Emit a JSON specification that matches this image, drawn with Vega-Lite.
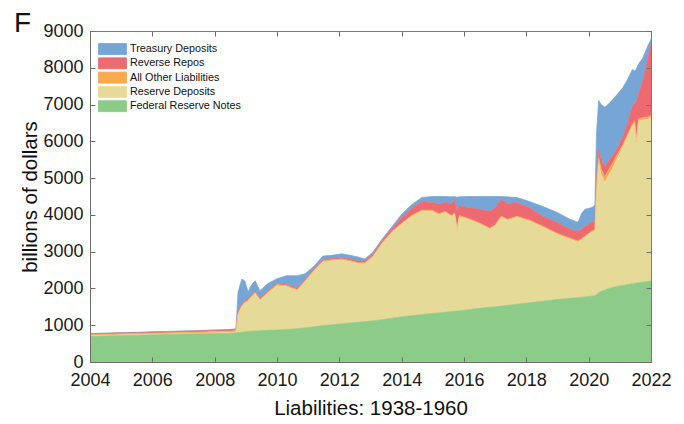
{
  "$schema": "https://vega.github.io/schema/vega-lite/v6.json",
  "width": 561,
  "height": 331,
  "autosize": {"type": "none"},
  "padding": {"left": 90, "top": 31, "right": 33, "bottom": 62},
  "background": "white",
  "config": {
    "font": "Liberation Sans",
    "view": {"stroke": "#7a7a7a", "strokeWidth": 1}
  },
  "title": {"text": "F", "anchor": "start", "frame": "group", "fontSize": 28, "fontWeight": "normal", "color": "#111", "dx": -76, "dy": 38, "offset": 0, "baseline": "alphabetic"},
  "data": {"values": [
    {"t": 2004.0, "Federal Reserve Notes": 700, "Reserve Deposits": 20, "All Other Liabilities": 25, "Reverse Repos": 25, "Treasury Deposits": 5},
    {"t": 2004.5, "Federal Reserve Notes": 708, "Reserve Deposits": 18, "All Other Liabilities": 26, "Reverse Repos": 27, "Treasury Deposits": 5},
    {"t": 2005.0, "Federal Reserve Notes": 718, "Reserve Deposits": 20, "All Other Liabilities": 27, "Reverse Repos": 28, "Treasury Deposits": 5},
    {"t": 2005.5, "Federal Reserve Notes": 728, "Reserve Deposits": 17, "All Other Liabilities": 28, "Reverse Repos": 27, "Treasury Deposits": 5},
    {"t": 2006.0, "Federal Reserve Notes": 738, "Reserve Deposits": 18, "All Other Liabilities": 29, "Reverse Repos": 30, "Treasury Deposits": 5},
    {"t": 2006.5, "Federal Reserve Notes": 748, "Reserve Deposits": 16, "All Other Liabilities": 30, "Reverse Repos": 31, "Treasury Deposits": 5},
    {"t": 2007.0, "Federal Reserve Notes": 758, "Reserve Deposits": 17, "All Other Liabilities": 31, "Reverse Repos": 32, "Treasury Deposits": 5},
    {"t": 2007.5, "Federal Reserve Notes": 765, "Reserve Deposits": 16, "All Other Liabilities": 32, "Reverse Repos": 35, "Treasury Deposits": 5},
    {"t": 2008.0, "Federal Reserve Notes": 775, "Reserve Deposits": 20, "All Other Liabilities": 33, "Reverse Repos": 38, "Treasury Deposits": 5},
    {"t": 2008.4, "Federal Reserve Notes": 782, "Reserve Deposits": 18, "All Other Liabilities": 34, "Reverse Repos": 40, "Treasury Deposits": 6},
    {"t": 2008.68, "Federal Reserve Notes": 790, "Reserve Deposits": 25, "All Other Liabilities": 36, "Reverse Repos": 42, "Treasury Deposits": 7},
    {"t": 2008.75, "Federal Reserve Notes": 800, "Reserve Deposits": 500, "All Other Liabilities": 30, "Reverse Repos": 40, "Treasury Deposits": 530},
    {"t": 2008.87, "Federal Reserve Notes": 810, "Reserve Deposits": 690, "All Other Liabilities": 30, "Reverse Repos": 40, "Treasury Deposits": 690},
    {"t": 2008.97, "Federal Reserve Notes": 820, "Reserve Deposits": 780, "All Other Liabilities": 30, "Reverse Repos": 40, "Treasury Deposits": 530},
    {"t": 2009.07, "Federal Reserve Notes": 830, "Reserve Deposits": 814, "All Other Liabilities": 30, "Reverse Repos": 35, "Treasury Deposits": 204},
    {"t": 2009.2, "Federal Reserve Notes": 838, "Reserve Deposits": 942, "All Other Liabilities": 30, "Reverse Repos": 35, "Treasury Deposits": 275},
    {"t": 2009.3, "Federal Reserve Notes": 843, "Reserve Deposits": 1017, "All Other Liabilities": 30, "Reverse Repos": 35, "Treasury Deposits": 285},
    {"t": 2009.45, "Federal Reserve Notes": 850, "Reserve Deposits": 820, "All Other Liabilities": 30, "Reverse Repos": 35, "Treasury Deposits": 205},
    {"t": 2009.7, "Federal Reserve Notes": 860, "Reserve Deposits": 1000, "All Other Liabilities": 30, "Reverse Repos": 35, "Treasury Deposits": 205},
    {"t": 2010.0, "Federal Reserve Notes": 870, "Reserve Deposits": 1205, "All Other Liabilities": 30, "Reverse Repos": 35, "Treasury Deposits": 124},
    {"t": 2010.3, "Federal Reserve Notes": 885, "Reserve Deposits": 1165, "All Other Liabilities": 30, "Reverse Repos": 35, "Treasury Deposits": 230},
    {"t": 2010.65, "Federal Reserve Notes": 905, "Reserve Deposits": 1035, "All Other Liabilities": 30, "Reverse Repos": 35, "Treasury Deposits": 340},
    {"t": 2010.9, "Federal Reserve Notes": 925, "Reserve Deposits": 1255, "All Other Liabilities": 30, "Reverse Repos": 35, "Treasury Deposits": 155},
    {"t": 2011.2, "Federal Reserve Notes": 960, "Reserve Deposits": 1520, "All Other Liabilities": 30, "Reverse Repos": 35, "Treasury Deposits": 70},
    {"t": 2011.47, "Federal Reserve Notes": 990, "Reserve Deposits": 1730, "All Other Liabilities": 30, "Reverse Repos": 35, "Treasury Deposits": 95},
    {"t": 2011.75, "Federal Reserve Notes": 1010, "Reserve Deposits": 1740, "All Other Liabilities": 30, "Reverse Repos": 35, "Treasury Deposits": 85},
    {"t": 2012.08, "Federal Reserve Notes": 1040, "Reserve Deposits": 1735, "All Other Liabilities": 30, "Reverse Repos": 35, "Treasury Deposits": 100},
    {"t": 2012.35, "Federal Reserve Notes": 1060, "Reserve Deposits": 1670, "All Other Liabilities": 30, "Reverse Repos": 40, "Treasury Deposits": 100},
    {"t": 2012.6, "Federal Reserve Notes": 1080, "Reserve Deposits": 1590, "All Other Liabilities": 30, "Reverse Repos": 45, "Treasury Deposits": 110},
    {"t": 2012.82, "Federal Reserve Notes": 1100, "Reserve Deposits": 1570, "All Other Liabilities": 30, "Reverse Repos": 45, "Treasury Deposits": 55},
    {"t": 2013.08, "Federal Reserve Notes": 1120, "Reserve Deposits": 1735, "All Other Liabilities": 30, "Reverse Repos": 50, "Treasury Deposits": 55},
    {"t": 2013.37, "Federal Reserve Notes": 1150, "Reserve Deposits": 2060, "All Other Liabilities": 30, "Reverse Repos": 60, "Treasury Deposits": 40},
    {"t": 2013.7, "Federal Reserve Notes": 1190, "Reserve Deposits": 2340, "All Other Liabilities": 30, "Reverse Repos": 80, "Treasury Deposits": 50},
    {"t": 2014.0, "Federal Reserve Notes": 1230, "Reserve Deposits": 2515, "All Other Liabilities": 30, "Reverse Repos": 150, "Treasury Deposits": 90},
    {"t": 2014.33, "Federal Reserve Notes": 1260, "Reserve Deposits": 2700, "All Other Liabilities": 30, "Reverse Repos": 200, "Treasury Deposits": 95},
    {"t": 2014.65, "Federal Reserve Notes": 1290, "Reserve Deposits": 2810, "All Other Liabilities": 30, "Reverse Repos": 230, "Treasury Deposits": 115},
    {"t": 2014.97, "Federal Reserve Notes": 1320, "Reserve Deposits": 2780, "All Other Liabilities": 30, "Reverse Repos": 210, "Treasury Deposits": 160},
    {"t": 2015.2, "Federal Reserve Notes": 1335, "Reserve Deposits": 2665, "All Other Liabilities": 30, "Reverse Repos": 270, "Treasury Deposits": 200},
    {"t": 2015.39, "Federal Reserve Notes": 1350, "Reserve Deposits": 2720, "All Other Liabilities": 30, "Reverse Repos": 240, "Treasury Deposits": 160},
    {"t": 2015.6, "Federal Reserve Notes": 1370, "Reserve Deposits": 2580, "All Other Liabilities": 30, "Reverse Repos": 320, "Treasury Deposits": 190},
    {"t": 2015.7, "Federal Reserve Notes": 1380, "Reserve Deposits": 2635, "All Other Liabilities": 30, "Reverse Repos": 375, "Treasury Deposits": 80},
    {"t": 2015.78, "Federal Reserve Notes": 1385, "Reserve Deposits": 2215, "All Other Liabilities": 30, "Reverse Repos": 470, "Treasury Deposits": 380},
    {"t": 2015.85, "Federal Reserve Notes": 1390, "Reserve Deposits": 2560, "All Other Liabilities": 30, "Reverse Repos": 270, "Treasury Deposits": 240},
    {"t": 2016.13, "Federal Reserve Notes": 1420, "Reserve Deposits": 2460, "All Other Liabilities": 30, "Reverse Repos": 290, "Treasury Deposits": 300},
    {"t": 2016.5, "Federal Reserve Notes": 1460, "Reserve Deposits": 2290, "All Other Liabilities": 30, "Reverse Repos": 370, "Treasury Deposits": 350},
    {"t": 2016.83, "Federal Reserve Notes": 1490, "Reserve Deposits": 2120, "All Other Liabilities": 30, "Reverse Repos": 460, "Treasury Deposits": 400},
    {"t": 2017.0, "Federal Reserve Notes": 1500, "Reserve Deposits": 2200, "All Other Liabilities": 30, "Reverse Repos": 470, "Treasury Deposits": 300},
    {"t": 2017.2, "Federal Reserve Notes": 1520, "Reserve Deposits": 2415, "All Other Liabilities": 30, "Reverse Repos": 455, "Treasury Deposits": 80},
    {"t": 2017.4, "Federal Reserve Notes": 1540, "Reserve Deposits": 2310, "All Other Liabilities": 30, "Reverse Repos": 420, "Treasury Deposits": 190},
    {"t": 2017.7, "Federal Reserve Notes": 1570, "Reserve Deposits": 2365, "All Other Liabilities": 30, "Reverse Repos": 375, "Treasury Deposits": 130},
    {"t": 2017.9, "Federal Reserve Notes": 1590, "Reserve Deposits": 2290, "All Other Liabilities": 30, "Reverse Repos": 350, "Treasury Deposits": 160},
    {"t": 2018.1, "Federal Reserve Notes": 1610, "Reserve Deposits": 2220, "All Other Liabilities": 30, "Reverse Repos": 340, "Treasury Deposits": 165},
    {"t": 2018.3, "Federal Reserve Notes": 1630, "Reserve Deposits": 2120, "All Other Liabilities": 30, "Reverse Repos": 300, "Treasury Deposits": 220},
    {"t": 2018.53, "Federal Reserve Notes": 1650, "Reserve Deposits": 2015, "All Other Liabilities": 30, "Reverse Repos": 265, "Treasury Deposits": 270},
    {"t": 2018.75, "Federal Reserve Notes": 1675, "Reserve Deposits": 1895, "All Other Liabilities": 30, "Reverse Repos": 280, "Treasury Deposits": 270},
    {"t": 2018.98, "Federal Reserve Notes": 1700, "Reserve Deposits": 1775, "All Other Liabilities": 30, "Reverse Repos": 295, "Treasury Deposits": 270},
    {"t": 2019.2, "Federal Reserve Notes": 1715, "Reserve Deposits": 1685, "All Other Liabilities": 30, "Reverse Repos": 270, "Treasury Deposits": 270},
    {"t": 2019.4, "Federal Reserve Notes": 1730, "Reserve Deposits": 1610, "All Other Liabilities": 30, "Reverse Repos": 240, "Treasury Deposits": 270},
    {"t": 2019.66, "Federal Reserve Notes": 1750, "Reserve Deposits": 1510, "All Other Liabilities": 30, "Reverse Repos": 265, "Treasury Deposits": 245},
    {"t": 2019.78, "Federal Reserve Notes": 1760, "Reserve Deposits": 1570, "All Other Liabilities": 30, "Reverse Repos": 260, "Treasury Deposits": 430},
    {"t": 2019.88, "Federal Reserve Notes": 1770, "Reserve Deposits": 1625, "All Other Liabilities": 30, "Reverse Repos": 265, "Treasury Deposits": 460},
    {"t": 2020.1, "Federal Reserve Notes": 1790, "Reserve Deposits": 1740, "All Other Liabilities": 30, "Reverse Repos": 240, "Treasury Deposits": 400},
    {"t": 2020.2, "Federal Reserve Notes": 1800, "Reserve Deposits": 1760, "All Other Liabilities": 30, "Reverse Repos": 230, "Treasury Deposits": 440},
    {"t": 2020.25, "Federal Reserve Notes": 1830, "Reserve Deposits": 2770, "All Other Liabilities": 100, "Reverse Repos": 300, "Treasury Deposits": 1200},
    {"t": 2020.32, "Federal Reserve Notes": 1880, "Reserve Deposits": 3540, "All Other Liabilities": 150, "Reverse Repos": 200, "Treasury Deposits": 1345},
    {"t": 2020.4, "Federal Reserve Notes": 1920, "Reserve Deposits": 3180, "All Other Liabilities": 150, "Reverse Repos": 250, "Treasury Deposits": 1500},
    {"t": 2020.52, "Federal Reserve Notes": 1960, "Reserve Deposits": 2920, "All Other Liabilities": 150, "Reverse Repos": 280, "Treasury Deposits": 1620},
    {"t": 2020.62, "Federal Reserve Notes": 1990, "Reserve Deposits": 3060, "All Other Liabilities": 150, "Reverse Repos": 250, "Treasury Deposits": 1550},
    {"t": 2020.75, "Federal Reserve Notes": 2020, "Reserve Deposits": 3210, "All Other Liabilities": 150, "Reverse Repos": 200, "Treasury Deposits": 1535},
    {"t": 2020.94, "Federal Reserve Notes": 2060, "Reserve Deposits": 3520, "All Other Liabilities": 100, "Reverse Repos": 170, "Treasury Deposits": 1450},
    {"t": 2021.1, "Federal Reserve Notes": 2080, "Reserve Deposits": 3770, "All Other Liabilities": 60, "Reverse Repos": 230, "Treasury Deposits": 1325},
    {"t": 2021.26, "Federal Reserve Notes": 2110, "Reserve Deposits": 4040, "All Other Liabilities": 60, "Reverse Repos": 300, "Treasury Deposits": 1190},
    {"t": 2021.4, "Federal Reserve Notes": 2125, "Reserve Deposits": 4275, "All Other Liabilities": 60, "Reverse Repos": 500, "Treasury Deposits": 990},
    {"t": 2021.48, "Federal Reserve Notes": 2140, "Reserve Deposits": 4360, "All Other Liabilities": 60, "Reverse Repos": 470, "Treasury Deposits": 890},
    {"t": 2021.52, "Federal Reserve Notes": 2145, "Reserve Deposits": 3755, "All Other Liabilities": 60, "Reverse Repos": 1100, "Treasury Deposits": 890},
    {"t": 2021.6, "Federal Reserve Notes": 2155, "Reserve Deposits": 4395, "All Other Liabilities": 60, "Reverse Repos": 700, "Treasury Deposits": 790},
    {"t": 2021.74, "Federal Reserve Notes": 2170, "Reserve Deposits": 4410, "All Other Liabilities": 60, "Reverse Repos": 1010, "Treasury Deposits": 620},
    {"t": 2021.9, "Federal Reserve Notes": 2190, "Reserve Deposits": 4410, "All Other Liabilities": 60, "Reverse Repos": 1610, "Treasury Deposits": 330},
    {"t": 2022.0, "Federal Reserve Notes": 2200, "Reserve Deposits": 4450, "All Other Liabilities": 60, "Reverse Repos": 1940, "Treasury Deposits": 130}
  ]},
  "transform": [
    {"fold": ["Treasury Deposits", "Reverse Repos", "All Other Liabilities", "Reserve Deposits", "Federal Reserve Notes"], "as": ["series", "value"]},
    {"calculate": "indexof(['Federal Reserve Notes', 'Reserve Deposits', 'All Other Liabilities', 'Reverse Repos', 'Treasury Deposits'], datum.series)", "as": "stackorder"}
  ],
  "layer": [
    {
      "mark": {"type": "area", "opacity": 1, "line": {"color": "#262626", "strokeWidth": 0.7}},
      "encoding": {
        "x": {
          "field": "t", "type": "quantitative",
          "scale": {"domain": [2004, 2022], "nice": false, "zero": false},
          "axis": {
            "values": [2004, 2006, 2008, 2010, 2012, 2014, 2016, 2018, 2020, 2022],
            "format": "d", "grid": false, "tickSize": -5, "tickColor": "#6e6e6e", "domainColor": "#6e6e6e", "zindex": 1,
            "labelFontSize": 18, "labelColor": "#1a1a1a", "labelPadding": 14, "labelFlush": false,
            "title": "Liabilities: 1938-1960", "titleFontSize": 20.5, "titleFontWeight": "normal", "titleColor": "#111", "titlePadding": 9
          }
        },
        "y": {
          "field": "value", "type": "quantitative", "stack": "zero",
          "scale": {"domain": [0, 9000], "nice": false},
          "axis": {
            "values": [0, 1000, 2000, 3000, 4000, 5000, 6000, 7000, 8000, 9000],
            "format": "d", "grid": false, "tickSize": -5, "tickColor": "#6e6e6e", "domainColor": "#6e6e6e", "zindex": 1,
            "labelFontSize": 18, "labelColor": "#1a1a1a", "labelPadding": 12,
            "title": "billions of dollars", "titleFontSize": 20.5, "titleFontWeight": "normal", "titleColor": "#111", "titlePadding": 2
          }
        },
        "order": {"field": "stackorder", "type": "quantitative", "sort": "ascending"},
        "color": {
          "field": "series", "type": "nominal",
          "sort": ["Treasury Deposits", "Reverse Repos", "All Other Liabilities", "Reserve Deposits", "Federal Reserve Notes"],
          "scale": {
            "domain": ["Treasury Deposits", "Reverse Repos", "All Other Liabilities", "Reserve Deposits", "Federal Reserve Notes"],
            "range": ["#76a6d5", "#ed6b70", "#f9a94f", "#e6da98", "#8ccb88"]
          },
          "legend": {
            "orient": "none", "legendX": 16.5, "legendY": 12, "title": null,
            "symbolType": "M-2.545,-1H2.545V1H-2.545Z", "symbolSize": 121,
            "symbolStrokeColor": "#6b6b6b", "symbolStrokeWidth": 0.8, "symbolOpacity": 1,
            "labelFontSize": 10.8, "labelColor": "#111", "labelOffset": 11.5, "rowPadding": -1.7, "padding": 0
          }
        }
      }
    },
    {
      "mark": {"type": "point", "opacity": 0},
      "encoding": {
        "x": {
          "field": "t", "type": "quantitative",
          "scale": {"domain": [2004, 2022], "nice": false, "zero": false},
          "axis": {"orient": "top", "values": [2004, 2006, 2008, 2010, 2012, 2014, 2016, 2018, 2020, 2022], "labels": false, "title": null, "grid": false, "tickSize": -5, "tickColor": "#6e6e6e", "domainColor": "#7a7a7a", "zindex": 1}
        },
        "y": {
          "field": "value", "type": "quantitative",
          "scale": {"domain": [0, 9000], "nice": false},
          "axis": {"orient": "right", "values": [0, 1000, 2000, 3000, 4000, 5000, 6000, 7000, 8000, 9000], "labels": false, "title": null, "grid": false, "tickSize": -5, "tickColor": "#6e6e6e", "domainColor": "#7a7a7a", "zindex": 1}
        }
      }
    }
  ],
  "resolve": {"axis": {"x": "independent", "y": "independent"}}
}
